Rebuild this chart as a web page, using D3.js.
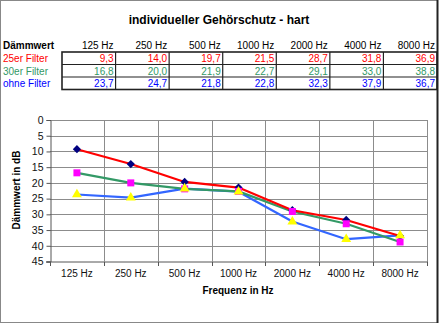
<!DOCTYPE html>
<html>
<head>
<meta charset="utf-8">
<script src="https://cdn.jsdelivr.net/npm/d3@7"></script>
<style>
  html, body { margin: 0; padding: 0; background: #fff; }
  svg { display: block; font-family: Arial, "Liberation Sans", sans-serif; }
</style>
</head>
<body>
<svg id="chart" width="439" height="324"></svg>
<script>
// Frequency bands and attenuation values (dB)
const categories = ["125 Hz", "250 Hz", "500 Hz", "1000 Hz", "2000 Hz", "4000 Hz", "8000 Hz"];
const seriesNames = ["25er Filter", "30er Filter", "ohne Filter"];
const filter25 = [9.3, 14.0, 19.7, 21.5, 28.7, 31.8, 36.9];
const filter30 = [16.8, 20.0, 21.9, 22.7, 29.1, 33.0, 38.8];
const ohneFilter = [23.7, 24.7, 21.8, 22.8, 32.3, 37.9, 36.7];
const yTicks = [0, 5, 10, 15, 20, 25, 30, 35, 40, 45];

const series = [
  { name: seriesNames[0], values: filter25, text: "#ff0000", line: "#ff0000", marker: "#000080", shape: d3.symbolSquare, size: 34, rot: 45 },
  { name: seriesNames[1], values: filter30, text: "#339966", line: "#339966", marker: "#ff00ff", shape: d3.symbolSquare, size: 49, rot: 0 },
  { name: seriesNames[2], values: ohneFilter, text: "#0000ff", line: "#3366ff", marker: "#ffff00", shape: d3.symbolTriangle, size: 42, rot: 0 }
];

const fmt = v => v.toFixed(1).replace(".", ",");
const svg = d3.select("#chart");

// outer frame
svg.append("rect").attr("x", 0.5).attr("y", 0.5).attr("width", 437).attr("height", 322)
  .attr("fill", "#fff").attr("stroke", "#888").attr("stroke-width", 1);
svg.append("line").attr("x1", 437.5).attr("x2", 437.5).attr("y1", 0).attr("y2", 323)
  .attr("stroke", "#222").attr("stroke-width", 2);

// title
svg.append("text").attr("x", 219).attr("y", 24).attr("text-anchor", "middle")
  .attr("font-size", 12).attr("font-weight", "bold").attr("fill", "#000")
  .text("individueller Gehörschutz - hart");

// ---- value table ----
const tx = d3.scaleBand().domain(categories).range([62, 437]);
const rowTop = [52, 64.5, 77];
const rowH = 12.5;

svg.append("text").attr("x", 3).attr("y", 49).attr("font-size", 10).attr("font-weight", "bold")
  .text("Dämmwert");
svg.selectAll("text.hdr").data(categories).join("text").attr("class", "hdr")
  .attr("x", d => tx(d) + tx.bandwidth() - 2).attr("y", 49)
  .attr("text-anchor", "end").attr("font-size", 10).attr("fill", "#000").text(d => d);

series.forEach((s, i) => {
  const y0 = rowTop[i];
  svg.append("text").attr("x", 3).attr("y", y0 + 10).attr("font-size", 10)
    .attr("fill", s.text).text(s.name);
  svg.selectAll("text.v" + i).data(s.values).join("text").attr("class", "v" + i)
    .attr("x", (d, j) => tx(categories[j]) + tx.bandwidth() - 2).attr("y", y0 + 10)
    .attr("text-anchor", "end").attr("font-size", 10).attr("fill", s.text).text(d => fmt(d));
});
// table grid
const tg = svg.append("g").attr("stroke", "#222").attr("fill", "none");
tg.append("rect").attr("x", 62).attr("y", rowTop[0]).attr("width", 375).attr("height", rowH * 3)
  .attr("stroke-width", 1.6);
rowTop.slice(1).forEach(y => tg.append("line").attr("x1", 62).attr("x2", 437).attr("y1", y).attr("y2", y).attr("stroke-width", 1.2));
categories.slice(1).forEach(c => tg.append("line").attr("x1", tx(c)).attr("x2", tx(c))
  .attr("y1", rowTop[0]).attr("y2", rowTop[0] + rowH * 3).attr("stroke-width", 1.2));

// ---- line chart ----
const x = d3.scaleBand().domain(categories).range([50, 427]);
const y = d3.scaleLinear().domain([0, 45]).range([120, 261.5]);
const cx = c => x(c) + x.bandwidth() / 2;

const grid = svg.append("g").attr("stroke", "#8c8c8c").attr("stroke-width", 1);
yTicks.slice(0, -1).forEach(t => grid.append("line").attr("x1", 50).attr("x2", 427)
  .attr("y1", Math.round(y(t)) + 0.5).attr("y2", Math.round(y(t)) + 0.5));
categories.slice(1).forEach(c => grid.append("line").attr("x1", Math.round(x(c)) + 0.5).attr("x2", Math.round(x(c)) + 0.5)
  .attr("y1", 120).attr("y2", 261.5));
grid.append("line").attr("x1", 427.5).attr("x2", 427.5).attr("y1", 120).attr("y2", 262);

// y axis
const yAxis = svg.append("g").attr("transform", "translate(50.5,0)")
  .call(d3.axisLeft(y).tickValues(yTicks).tickSize(4).tickPadding(3).tickFormat(d3.format("d")));
yAxis.select(".domain").attr("stroke", "#555");
yAxis.selectAll(".tick line").attr("stroke", "#555");
yAxis.selectAll("text").attr("font-size", 10.5).attr("fill", "#111").attr("font-family", "Arial, 'Liberation Sans', sans-serif");

// x axis with ticks at band boundaries
const xAxis = svg.append("g").attr("transform", "translate(0,262)");
xAxis.append("line").attr("x1", 46).attr("x2", 427.5).attr("y1", 0).attr("y2", 0).attr("stroke", "#555");
categories.concat(["end"]).forEach((c, i) => {
  const xx = Math.round(50 + i * x.step()) + 0.5;
  xAxis.append("line").attr("x1", xx).attr("x2", xx).attr("y1", 0).attr("y2", 4).attr("stroke", "#555");
});
xAxis.selectAll("text.xl").data(categories).join("text").attr("class", "xl")
  .attr("x", d => cx(d)).attr("y", 15).attr("text-anchor", "middle")
  .attr("font-size", 10).attr("fill", "#111").text(d => d);

svg.append("text").attr("x", 238).attr("y", 294).attr("text-anchor", "middle")
  .attr("font-size", 10).attr("font-weight", "bold").text("Frequenz in Hz");
svg.append("text").attr("transform", "translate(20,190) rotate(-90)").attr("text-anchor", "middle")
  .attr("font-size", 10).attr("font-weight", "bold").text("Dämmwert in dB");

// series lines
const line = d3.line().x((d, i) => cx(categories[i])).y(d => y(d));
series.slice().reverse().forEach(s => {
  svg.append("path").datum(s.values).attr("d", line).attr("fill", "none")
    .attr("stroke", s.line).attr("stroke-width", 2.2).attr("stroke-linejoin", "round");
});
// markers
series.forEach(s => {
  svg.selectAll(null).data(s.values).join("path")
    .attr("transform", (d, i) => `translate(${cx(categories[i])},${y(d)}) rotate(${s.rot})`)
    .attr("d", d3.symbol().type(s.shape).size(s.size))
    .attr("fill", s.marker);
});
</script>
</body>
</html>
